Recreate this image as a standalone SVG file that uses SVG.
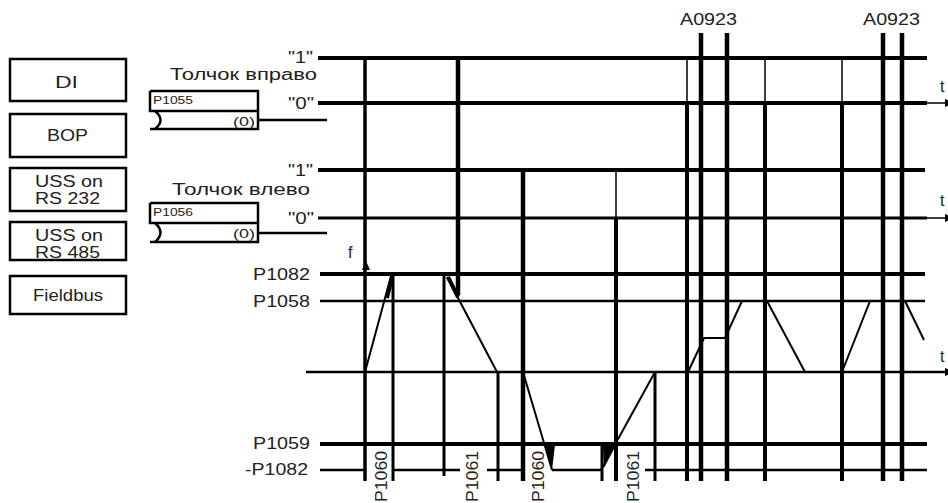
<svg xmlns="http://www.w3.org/2000/svg" width="948" height="503" viewBox="0 0 948 503">
<style>
.t{font-family:"Liberation Sans",Arial,sans-serif;font-size:16px;fill:#222}
.s{font-size:11px}
.m{font-size:12px}
.box{fill:#fff;stroke:#000;stroke-width:2.5}
.ln{stroke:#000;fill:none}
.r{stroke:#000;stroke-width:2;fill:none}
</style>
<defs>
<marker id="arr" markerUnits="userSpaceOnUse" markerWidth="10" markerHeight="10" viewBox="0 0 10 10" refX="10" refY="5" orient="auto">
<path d="M0,1 L10,5 L0,9 z" fill="#000"/>
</marker>
</defs>

<!-- source nodes -->
<g id="node-di"><rect class="box" x="10" y="59" width="116" height="42"/><text class="t" x="55" y="88" textLength="23" lengthAdjust="spacingAndGlyphs">DI</text></g>
<g id="node-bop"><rect class="box" x="10" y="114" width="116" height="43"/><text class="t" x="47" y="141" textLength="41" lengthAdjust="spacingAndGlyphs">BOP</text></g>
<g id="node-uss232"><rect class="box" x="10" y="168" width="116" height="43"/><text class="t" x="35" y="187" textLength="68" lengthAdjust="spacingAndGlyphs">USS on</text><text class="t" x="35" y="204" textLength="65" lengthAdjust="spacingAndGlyphs">RS 232</text></g>
<g id="node-uss485"><rect class="box" x="10" y="222" width="116" height="38"/><text class="t" x="35" y="241" textLength="68" lengthAdjust="spacingAndGlyphs">USS on</text><text class="t" x="35" y="258" textLength="65" lengthAdjust="spacingAndGlyphs">RS 485</text></g>
<g id="node-fieldbus"><rect class="box" x="10" y="276" width="116" height="38"/><text class="t" x="33" y="301" textLength="70" lengthAdjust="spacingAndGlyphs">Fieldbus</text></g>

<!-- parameter nodes -->
<g id="node-p1055">
<text class="t" x="170" y="80" textLength="147" lengthAdjust="spacingAndGlyphs">Толчок вправо</text>
<path class="ln" stroke-width="2.5" d="M150,91 H258 V129 H150 M150,111 H258 M150,129 H155 Q166,120 155,111 H150 V91"/>
<text class="t s" x="153" y="104" textLength="40" lengthAdjust="spacingAndGlyphs">P1055</text>
<text class="t m" x="233" y="126" textLength="22" lengthAdjust="spacingAndGlyphs">(0)</text>
</g>
<g id="node-p1056">
<text class="t" x="172" y="195" textLength="138" lengthAdjust="spacingAndGlyphs">Толчок влево</text>
<path class="ln" stroke-width="2.5" d="M150,203 H258 V242 H150 M150,223 H258 M150,242 H155 Q166,232.5 155,223 H150 V203"/>
<text class="t s" x="153" y="216" textLength="40" lengthAdjust="spacingAndGlyphs">P1056</text>
<text class="t m" x="233" y="238" textLength="22" lengthAdjust="spacingAndGlyphs">(0)</text>
</g>

<!-- level labels -->
<g id="labels">
<text class="t" x="288" y="63" textLength="25" lengthAdjust="spacingAndGlyphs">"1"</text>
<text class="t" x="288" y="109" textLength="26" lengthAdjust="spacingAndGlyphs">"0"</text>
<text class="t" x="288" y="176" textLength="25" lengthAdjust="spacingAndGlyphs">"1"</text>
<text class="t" x="288" y="224" textLength="26" lengthAdjust="spacingAndGlyphs">"0"</text>
<text class="t" x="253" y="280" textLength="57" lengthAdjust="spacingAndGlyphs">P1082</text>
<text class="t" x="253" y="307" textLength="57" lengthAdjust="spacingAndGlyphs">P1058</text>
<text class="t" x="253" y="449" textLength="57" lengthAdjust="spacingAndGlyphs">P1059</text>
<text class="t" x="245" y="475" textLength="63" lengthAdjust="spacingAndGlyphs">-P1082</text>
<text class="t" x="348" y="258">f</text>
<text class="t" x="940" y="92">t</text>
<text class="t" x="940" y="206">t</text>
<text class="t" x="940" y="362">t</text>
<text class="t" x="680" y="25" textLength="57" lengthAdjust="spacingAndGlyphs">A0923</text>
<text class="t" x="863" y="25" textLength="57" lengthAdjust="spacingAndGlyphs">A0923</text>
<text class="t" transform="translate(387,502) rotate(-90)" textLength="51" lengthAdjust="spacingAndGlyphs">P1060</text>
<text class="t" transform="translate(478,502) rotate(-90)" textLength="51" lengthAdjust="spacingAndGlyphs">P1061</text>
<text class="t" transform="translate(544,502) rotate(-90)" textLength="51" lengthAdjust="spacingAndGlyphs">P1060</text>
<text class="t" transform="translate(639,502) rotate(-90)" textLength="51" lengthAdjust="spacingAndGlyphs">P1061</text>
</g>

<!-- connectors: signal levels, edges and ramps -->
<g id="connectors">
<line class="ln" x1="258" y1="120" x2="327" y2="120" stroke-width="2.5"/>
<line class="ln" x1="258" y1="233" x2="327" y2="233" stroke-width="2.5"/>
<!-- horizontal levels -->
<line class="ln" x1="318" y1="58" x2="927" y2="58" stroke-width="4"/>
<line class="ln" x1="318" y1="103" x2="927" y2="103" stroke-width="4"/>
<line class="ln" x1="927" y1="103" x2="955" y2="103" stroke-width="1.5" marker-end="url(#arr)"/>
<line class="ln" x1="318" y1="170" x2="925" y2="170" stroke-width="4"/>
<line class="ln" x1="318" y1="218" x2="927" y2="218" stroke-width="3"/>
<line class="ln" x1="927" y1="218" x2="955" y2="218" stroke-width="1.5" marker-end="url(#arr)"/>
<line class="ln" x1="320" y1="274" x2="925" y2="274" stroke-width="4"/>
<line class="ln" x1="320" y1="301" x2="925" y2="301" stroke-width="2.5"/>
<line class="ln" x1="306" y1="372" x2="955" y2="372" stroke-width="2.5" marker-end="url(#arr)"/>
<line class="ln" x1="320" y1="444" x2="927" y2="444" stroke-width="4"/>
<path class="ln" stroke-width="2.5" d="M320,470 H365 M393,470 H460 M487,470 H523 M552,470 H603 M645,470 H927"/>
<!-- vertical edges -->
<path class="ln" stroke-width="3.5" d="M365,58 V481"/>
<path class="ln" stroke-width="3" d="M393,274 V481 M444,274 V476 M498,372 V481 M602,444 V481 M655,372 V481"/>
<path class="ln" stroke-width="4.5" d="M458,58 V295 M523,170 V481"/>
<path class="ln" stroke-width="1.5" d="M616,170 V218 M687,58 V103 M765,58 V103 M842,58 V103"/>
<path class="ln" stroke-width="4" d="M616,218 V481 M687,103 V481 M765,103 V481 M842,103 V481"/>
<path class="ln" stroke-width="4.5" d="M701,33 V481 M727,33 V481 M883,33 V481 M902,33 V481"/>
<polygon points="366,261 362,270 370,270" fill="#000"/>
<!-- ramps -->
<path class="r" d="M365,372 L391,276 M447,277 L497,372 M523,372 L552,470 M601,470 L655,372 M688,372 L704,338 H725 L742,301 M767,301 L805,372 M842,372 L870,301 M905,301 L924,340"/>
<path class="ln" stroke-width="4" d="M387,298 L392,277 M448,277 L458,297"/>
<polygon points="545,445 555,445 552,470" fill="#000"/>
<polygon points="603,445 616,445 604,468" fill="#000"/>
</g>
</svg>
